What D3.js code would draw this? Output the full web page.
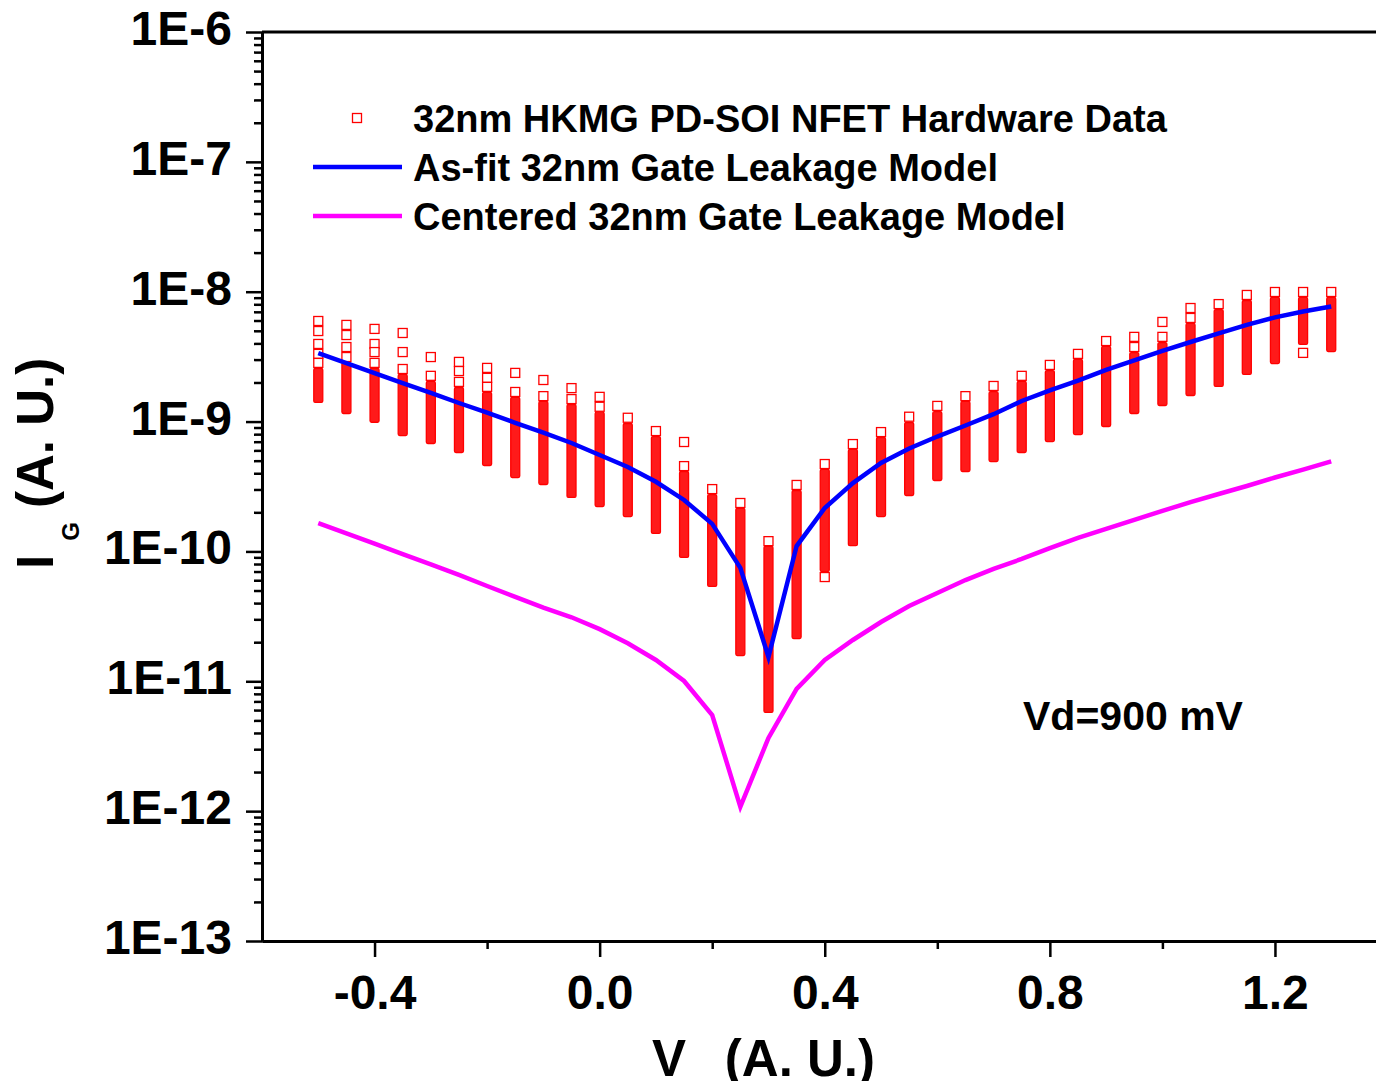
<!DOCTYPE html>
<html>
<head>
<meta charset="utf-8">
<script src="https://cdn.jsdelivr.net/npm/d3@7"></script>
<style>
  html, body { margin: 0; padding: 0; background: #fff; overflow: hidden; }
  svg { display: block; font-family: "Liberation Sans", Arial, Helvetica, sans-serif; font-weight: bold; }
</style>
</head>
<body>
<svg id="chart" width="1376" height="1081"></svg>
<script>
// gate voltage columns (A. U.)
const vg = [-0.5, -0.45, -0.4, -0.35, -0.3, -0.25, -0.2, -0.15, -0.1, -0.05,
  0.0, 0.05, 0.1, 0.15, 0.2, 0.25, 0.3, 0.35, 0.4, 0.45, 0.5, 0.55, 0.6, 0.65,
  0.7, 0.75, 0.8, 0.85, 0.9, 0.95, 1.0, 1.05, 1.1, 1.15, 1.2, 1.25, 1.3];

// hardware data: dense band per column (upper / lower edge) plus loose points
const hwUpper = [2.37e-9, 2.63e-9, 2.37e-9, 2.13e-9, 1.88e-9, 1.69e-9, 1.55e-9, 1.42e-9, 1.32e-9, 1.25e-9,
  1.09e-9, 8.92e-10, 7.08e-10, 3.81e-10, 2.53e-10, 1.98e-10, 1.01e-10, 2.72e-10, 3.95e-10, 5.63e-10,
  6.96e-10, 9.08e-10, 1.10e-9, 1.32e-9, 1.57e-9, 1.88e-9, 2.28e-9, 2.78e-9, 3.50e-9, 3.14e-9,
  3.75e-9, 5.26e-9, 6.73e-9, 7.90e-9, 8.34e-9, 8.34e-9, 8.34e-9];
const hwLower = [1.52e-9, 1.25e-9, 1.07e-9, 8.45e-10, 7.34e-10, 6.26e-10, 4.97e-10, 4.01e-10, 3.55e-10, 2.82e-10,
  2.40e-10, 2.01e-10, 1.49e-10, 9.73e-11, 5.82e-11, 1.71e-11, 6.23e-12, 2.31e-11, 7.59e-11, 1.20e-10,
  2.01e-10, 2.92e-10, 3.81e-10, 4.47e-10, 5.33e-10, 6.26e-10, 7.60e-10, 8.60e-10, 9.92e-10, 1.25e-9,
  1.44e-9, 1.72e-9, 2.02e-9, 2.50e-9, 3.03e-9, 4.25e-9, 3.75e-9];
const hwLoose = [
  [5.95e-9, 4.98e-9, 3.96e-9, 3.32e-9, 2.83e-9],
  [5.55e-9, 4.64e-9, 3.75e-9, 3.14e-9],
  [5.17e-9, 3.96e-9, 3.43e-9, 2.83e-9],
  [4.81e-9, 3.43e-9, 2.54e-9],
  [3.14e-9, 2.25e-9],
  [2.88e-9, 2.45e-9, 2.02e-9],
  [2.59e-9, 2.17e-9, 1.85e-9],
  [2.37e-9, 1.69e-9],
  [2.09e-9, 1.57e-9],
  [1.81e-9, 1.49e-9],
  [1.55e-9, 1.30e-9],
  [1.07e-9],
  [8.45e-10],
  [6.96e-10, 4.54e-10],
  [3.02e-10],
  [2.36e-10],
  [1.20e-10],
  [3.25e-10],
  [4.71e-10, 6.35e-11],
  [6.71e-10],
  [8.30e-10],
  [1.09e-9],
  [1.32e-9],
  [1.57e-9],
  [1.88e-9],
  [2.25e-9],
  [2.73e-9],
  [3.32e-9],
  [4.17e-9],
  [4.49e-9, 3.75e-9],
  [5.85e-9, 4.49e-9],
  [7.49e-9, 6.28e-9],
  [8.03e-9],
  [9.44e-9],
  [9.95e-9],
  [9.95e-9, 3.38e-9],
  [9.95e-9]
];

// model curves
const asFit = [3.36e-9, 2.82e-9, 2.36e-9, 1.98e-9, 1.66e-9, 1.39e-9, 1.17e-9, 9.78e-10, 8.22e-10, 6.84e-10,
  5.53e-10, 4.47e-10, 3.44e-10, 2.49e-10, 1.63e-10, 7.47e-11, 1.54e-11, 1.10e-10, 2.16e-10, 3.36e-10,
  4.80e-10, 6.20e-10, 7.67e-10, 9.33e-10, 1.14e-9, 1.44e-9, 1.74e-9, 2.07e-9, 2.50e-9, 2.96e-9,
  3.50e-9, 4.10e-9, 4.77e-9, 5.55e-9, 6.34e-9, 7.04e-9, 7.70e-9];
const centered = [1.65e-10, 1.38e-10, 1.15e-10, 9.53e-11, 7.96e-11, 6.59e-11, 5.42e-11, 4.46e-11, 3.69e-11, 3.11e-11,
  2.52e-11, 1.96e-11, 1.46e-11, 1.005e-11, 5.5e-12, 1.08e-12, 3.66e-12, 8.73e-12, 1.46e-11, 2.08e-11,
  2.86e-11, 3.80e-11, 4.79e-11, 6.02e-11, 7.33e-11, 8.75e-11, 1.06e-10, 1.27e-10, 1.49e-10, 1.75e-10,
  2.05e-10, 2.40e-10, 2.77e-10, 3.19e-10, 3.71e-10, 4.27e-10, 4.93e-10];

// axis ticks
const xMajorTicks = [-0.4, 0.0, 0.4, 0.8, 1.2];
const xMinorTicks = [-0.2, 0.2, 0.6, 1.0];
const yMajorTicks = [1e-13, 1e-12, 1e-11, 1e-10, 1e-9, 1e-8, 1e-7, 1e-6];

const legendItems = [
  { label: "32nm HKMG PD-SOI NFET Hardware Data", type: "square" },
  { label: "As-fit 32nm Gate Leakage Model", type: "line", color: "#0000ff" },
  { label: "Centered 32nm Gate Leakage Model", type: "line", color: "#ff00ff" }
];

const svg = d3.select("#chart");

const x = d3.scaleLinear().domain([-0.6, 1.4]).range([262, 1387.5]);
const y = d3.scaleLog().domain([1e-13, 1e-6]).range([941, 32]);

const red = "#ff0000";
const sq = 9;

// --- hardware data ---
const dataG = svg.append("g");
dataG.selectAll(".band")
  .data(vg)
  .enter()
  .append("rect")
  .attr("class", "band")
  .attr("x", d => x(d) - sq / 2)
  .attr("y", (d, i) => y(hwUpper[i]) - sq / 2)
  .attr("width", sq)
  .attr("height", (d, i) => y(hwLower[i]) - y(hwUpper[i]) + sq)
  .attr("rx", 1.5)
  .attr("fill", "#ff1a1a")
  .attr("stroke", red)
  .attr("stroke-width", 1.3);

const loose = [];
vg.forEach((v, i) => hwLoose[i].forEach(val => loose.push({ v: v, val: val })));

dataG.selectAll(".pt")
  .data(loose)
  .enter()
  .append("rect")
  .attr("class", "pt")
  .attr("x", d => x(d.v) - sq / 2)
  .attr("y", d => y(d.val) - sq / 2)
  .attr("width", sq)
  .attr("height", sq)
  .attr("fill", "#fff")
  .attr("stroke", red)
  .attr("stroke-width", 1.3);

// --- model lines ---
const line = d3.line()
  .x(d => x(d[0]))
  .y(d => y(d[1]));

svg.append("path")
  .datum(vg.map((v, i) => [v, asFit[i]]))
  .attr("d", line)
  .attr("fill", "none")
  .attr("stroke", "#0000ff")
  .attr("stroke-width", 4.5);

svg.append("path")
  .datum(vg.map((v, i) => [v, centered[i]]))
  .attr("d", line)
  .attr("fill", "none")
  .attr("stroke", "#ff00ff")
  .attr("stroke-width", 4.5);

// --- axes ---
const yMinorTicks = [];
yMajorTicks.slice(0, -1).forEach(t => {
  [2, 3, 4, 5, 6, 7, 8, 9].forEach(m => yMinorTicks.push(m * t));
});

const yAxis = d3.axisLeft(y)
  .tickValues(yMajorTicks)
  .tickSize(16)
  .tickSizeOuter(0)
  .tickPadding(14)
  .tickFormat(d => "1E" + Math.round(Math.log10(d)));

const yMinor = d3.axisLeft(y)
  .tickValues(yMinorTicks)
  .tickSize(8)
  .tickSizeOuter(0)
  .tickFormat("");

const xAxis = d3.axisBottom(x)
  .tickValues(xMajorTicks)
  .tickSize(16)
  .tickSizeOuter(0)
  .tickPadding(18)
  .tickFormat(d => d.toFixed(1));

const xMinor = d3.axisBottom(x)
  .tickValues(xMinorTicks)
  .tickSize(8)
  .tickSizeOuter(0)
  .tickFormat("");

function styleAxis(g) {
  g.select(".domain").attr("stroke", "#000").attr("stroke-width", 3);
  g.selectAll(".tick line").attr("stroke", "#000").attr("stroke-width", 2.5);
  g.selectAll(".tick text")
    .attr("fill", "#000")
    .style("font-family", "\"Liberation Sans\", Arial, sans-serif")
    .style("font-weight", "bold")
    .style("font-size", "48px");
}

svg.append("g").attr("transform", `translate(0,${y.range()[0]})`).call(xMinor).call(styleAxis);
svg.append("g").attr("transform", `translate(0,${y.range()[0]})`).call(xAxis).call(styleAxis);
svg.append("g").attr("transform", `translate(${x.range()[0]},0)`).call(yMinor).call(styleAxis);
const yG = svg.append("g").attr("transform", `translate(${x.range()[0]},0)`).call(yAxis).call(styleAxis);
yG.selectAll(".tick text").attr("dy", "0.26em");

// top frame
svg.append("line")
  .attr("x1", x.range()[0]).attr("x2", x.range()[1])
  .attr("y1", y.range()[1]).attr("y2", y.range()[1])
  .attr("stroke", "#000").attr("stroke-width", 3);

// --- axis titles ---
const yTitle = svg.append("text")
  .attr("transform", "translate(53,569) rotate(-90)")
  .style("font-size", "51px")
  .attr("fill", "#000");
yTitle.append("tspan").text("I");
yTitle.append("tspan").attr("dx", 14).attr("dy", 26).style("font-size", "24px").text("G");
yTitle.append("tspan").attr("dy", -26).text(" (A. U.)");

const xTitle = svg.append("text")
  .attr("x", 652).attr("y", 1076)
  .style("font-size", "51px")
  .attr("fill", "#000");
xTitle.append("tspan").text("V");
xTitle.append("tspan").attr("dx", 6).attr("dy", 26).style("font-size", "24px").text("G");
xTitle.append("tspan").attr("dy", -26).text(" (A. U.)");

// --- legend ---
const legend = svg.append("g");
legendItems.forEach((item, i) => {
  const cy = 118 + i * 49;
  if (item.type === "square") {
    legend.append("rect")
      .attr("x", 357 - sq / 2).attr("y", cy - sq / 2)
      .attr("width", sq).attr("height", sq)
      .attr("fill", "#fff").attr("stroke", red).attr("stroke-width", 1.3);
  } else {
    legend.append("line")
      .attr("x1", 313).attr("x2", 402)
      .attr("y1", cy).attr("y2", cy)
      .attr("stroke", item.color).attr("stroke-width", 4.5);
  }
  legend.append("text")
    .attr("x", 413).attr("y", cy + 13.5)
    .style("font-size", "38px")
    .attr("fill", "#000")
    .text(item.label);
});

// annotation
svg.append("text")
  .attr("x", 1023).attr("y", 730)
  .style("font-size", "41px")
  .attr("fill", "#000")
  .text("Vd=900 mV");
</script>
</body>
</html>
